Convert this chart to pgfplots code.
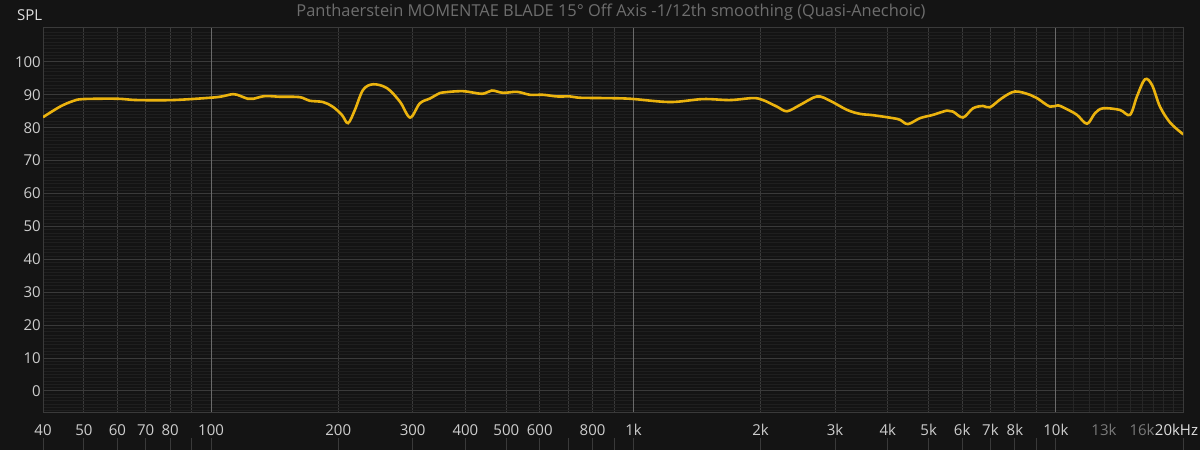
\documentclass[border=0pt]{standalone}
\usepackage{fontspec}
\setmainfont{Open Sans}
\usepackage{pgfplots}
\pgfplotsset{compat=1.18}
\definecolor{bg}{HTML}{141414}
\definecolor{gmaj}{HTML}{3A3A3A}
\definecolor{gdec}{HTML}{6A6A6A}
\definecolor{gmin}{HTML}{1F1F1F}
\definecolor{gminv}{HTML}{262626}
\definecolor{curve}{HTML}{EBB30E}
\definecolor{titlec}{HTML}{6E6E6E}
\definecolor{lab}{HTML}{CDCDCD}
\definecolor{labdim}{HTML}{7A7A7A}
\begin{document}
\begin{tikzpicture}[x=1pt,y=1pt]
\fill[bg] (0,0) rectangle (1200,450);
\useasboundingbox (0,0) rectangle (1200,450);
\node[text=titlec, font=\fontsize{16.4}{19}\selectfont] at (611,438) {Panthaerstein MOMENTAE BLADE 15° Off Axis -1/12th smoothing (Quasi-Anechoic)};
\node[anchor=west, text=white!88!black, font=\fontsize{15}{17}\selectfont, inner sep=0pt] at (17,435) {SPL};
% bottom strip of grid lines below the labels
\begin{axis}[at={(43pt,0pt)}, anchor=south west, scale only axis, width=1140pt, height=12pt,
  xmode=log, xmin=40, xmax=20000, ymin=0, ymax=1,
  axis line style={draw=none}, ytick=\empty,
  xtick={40,50,60,70,80,90,100,200,300,400,500,600,700,800,900,1000,2000,3000,4000,5000,6000,7000,8000,9000,10000,20000},
  xticklabels={}, major tick length=0pt, xmajorgrids, major grid style={gmaj, line width=1pt}]
\end{axis}
\begin{axis}[at={(43pt,38pt)}, anchor=south west, scale only axis, width=1140pt, height=384pt,
  xmode=log, xmin=40, xmax=20000, ymin=-6.4, ymax=110.3,
  axis line style={gmaj, line width=1pt},
  major tick length=0pt, minor tick length=0pt,
  xtick={40,50,60,70,80,90,100,200,300,400,500,600,700,800,900,1000,2000,3000,4000,5000,6000,7000,8000,9000,10000,20000},
  xticklabels={40,50,60,70,80,,100,200,300,400,500,600,,800,,1k,2k,3k,4k,5k,6k,7k,8k,,10k,{\hspace*{-13pt}\textcolor{white!88!black}{20kHz}}},
  extra x ticks={13000,16000},
  extra x tick labels={\textcolor{labdim}{13k},\textcolor{labdim}{16k}},
  extra x tick style={grid=none},
  minor xtick={11000,12000,13000,14000,15000,16000,17000,18000,19000},
  ytick={0,10,20,30,40,50,60,70,80,90,100},
  yticklabels={0,10,20,30,40,50,60,70,80,90,100},
  minor ytick={-6,-5,-4,-3,-2,-1,1,2,3,4,5,6,7,8,9,11,12,13,14,15,16,17,18,19,21,22,23,24,25,26,27,28,29,31,32,33,34,35,36,37,38,39,41,42,43,44,45,46,47,48,49,51,52,53,54,55,56,57,58,59,61,62,63,64,65,66,67,68,69,71,72,73,74,75,76,77,78,79,81,82,83,84,85,86,87,88,89,91,92,93,94,95,96,97,98,99,101,102,103,104,105,106,107,108,109},
  grid=both,
  major grid style={gmaj, line width=1pt},
  minor grid style={gmin, line width=0.8pt},
  tick label style={text=lab, font=\fontsize{15}{17}\selectfont},
  xticklabel style={anchor=center, yshift=-18pt},
  yticklabel style={anchor=east, inner sep=0pt, xshift=-2pt},
]
\draw[gminv, line width=1pt] ({axis cs:11000,0}|-{rel axis cs:0,0}) -- ({axis cs:11000,0}|-{rel axis cs:0,1});
\draw[gminv, line width=1pt] ({axis cs:12000,0}|-{rel axis cs:0,0}) -- ({axis cs:12000,0}|-{rel axis cs:0,1});
\draw[gminv, line width=1pt] ({axis cs:13000,0}|-{rel axis cs:0,0}) -- ({axis cs:13000,0}|-{rel axis cs:0,1});
\draw[gminv, line width=1pt] ({axis cs:14000,0}|-{rel axis cs:0,0}) -- ({axis cs:14000,0}|-{rel axis cs:0,1});
\draw[gminv, line width=1pt] ({axis cs:15000,0}|-{rel axis cs:0,0}) -- ({axis cs:15000,0}|-{rel axis cs:0,1});
\draw[gminv, line width=1pt] ({axis cs:16000,0}|-{rel axis cs:0,0}) -- ({axis cs:16000,0}|-{rel axis cs:0,1});
\draw[gminv, line width=1pt] ({axis cs:17000,0}|-{rel axis cs:0,0}) -- ({axis cs:17000,0}|-{rel axis cs:0,1});
\draw[gminv, line width=1pt] ({axis cs:18000,0}|-{rel axis cs:0,0}) -- ({axis cs:18000,0}|-{rel axis cs:0,1});
\draw[gminv, line width=1pt] ({axis cs:19000,0}|-{rel axis cs:0,0}) -- ({axis cs:19000,0}|-{rel axis cs:0,1});
\draw[gdec, line width=1pt] ({axis cs:100,0}|-{rel axis cs:0,0}) -- ({axis cs:100,0}|-{rel axis cs:0,1});
\draw[gdec, line width=1pt] ({axis cs:1000,0}|-{rel axis cs:0,0}) -- ({axis cs:1000,0}|-{rel axis cs:0,1});
\draw[gdec, line width=1pt] ({axis cs:10000,0}|-{rel axis cs:0,0}) -- ({axis cs:10000,0}|-{rel axis cs:0,1});
\addplot[curve, line width=2.6pt, smooth, tension=0.55] coordinates {
(40,83.2) (43.9,86.4) (47.1,88.1) (49.8,88.7) (59.9,88.8) (66.8,88.4) (81.2,88.4)
(99.4,89.1) (106,89.5) (112.7,90.2) (117,89.7) (122,88.8) (126,88.8) (134,89.6)
(146,89.4) (162,89.3) (171,88.2) (184,87.8) (194,86.4) (204,83.9) (211,81.4)
(219,85.4) (229,91.5) (242,93.2) (261,92.0) (280,87.9) (296,83.1) (312,87.4)
(330,88.9) (344,90.2) (354,90.7) (395,91.1) (438,90.3) (462,91.3) (491,90.6)
(530,90.9) (569,90.0) (611,90.0) (659,89.5) (708,89.5) (747,89.1) (850,89.0)
(981,88.8) (1220,87.8) (1461,88.7) (1692,88.4) (1918,89.0) (2026,88.4) (2186,86.4)
(2309,85.0) (2478,86.9) (2720,89.5) (2919,88.2) (3204,85.4) (3439,84.2) (3690,83.8)
(4115,82.9) (4275,82.4) (4465,81.1) (4768,82.9) (5117,83.9) (5524,85.2) (5707,84.9)
(6028,83.1) (6366,85.9) (6723,86.6) (6983,86.2) (7456,89.0) (8005,91.0) (8684,90.0)
(9020,89.0) (9684,86.4) (10115,86.8) (10625,85.6) (11220,83.9) (11850,81.2) (12377,84.4)
(12929,85.9) (14180,85.4) (14979,83.9) (15560,89.5) (16252,94.7) (16887,93.0)
(17640,86.4) (18628,81.6) (19886,78.3) (20000,78.2)
};
\end{axis}
\end{tikzpicture}
\end{document}
